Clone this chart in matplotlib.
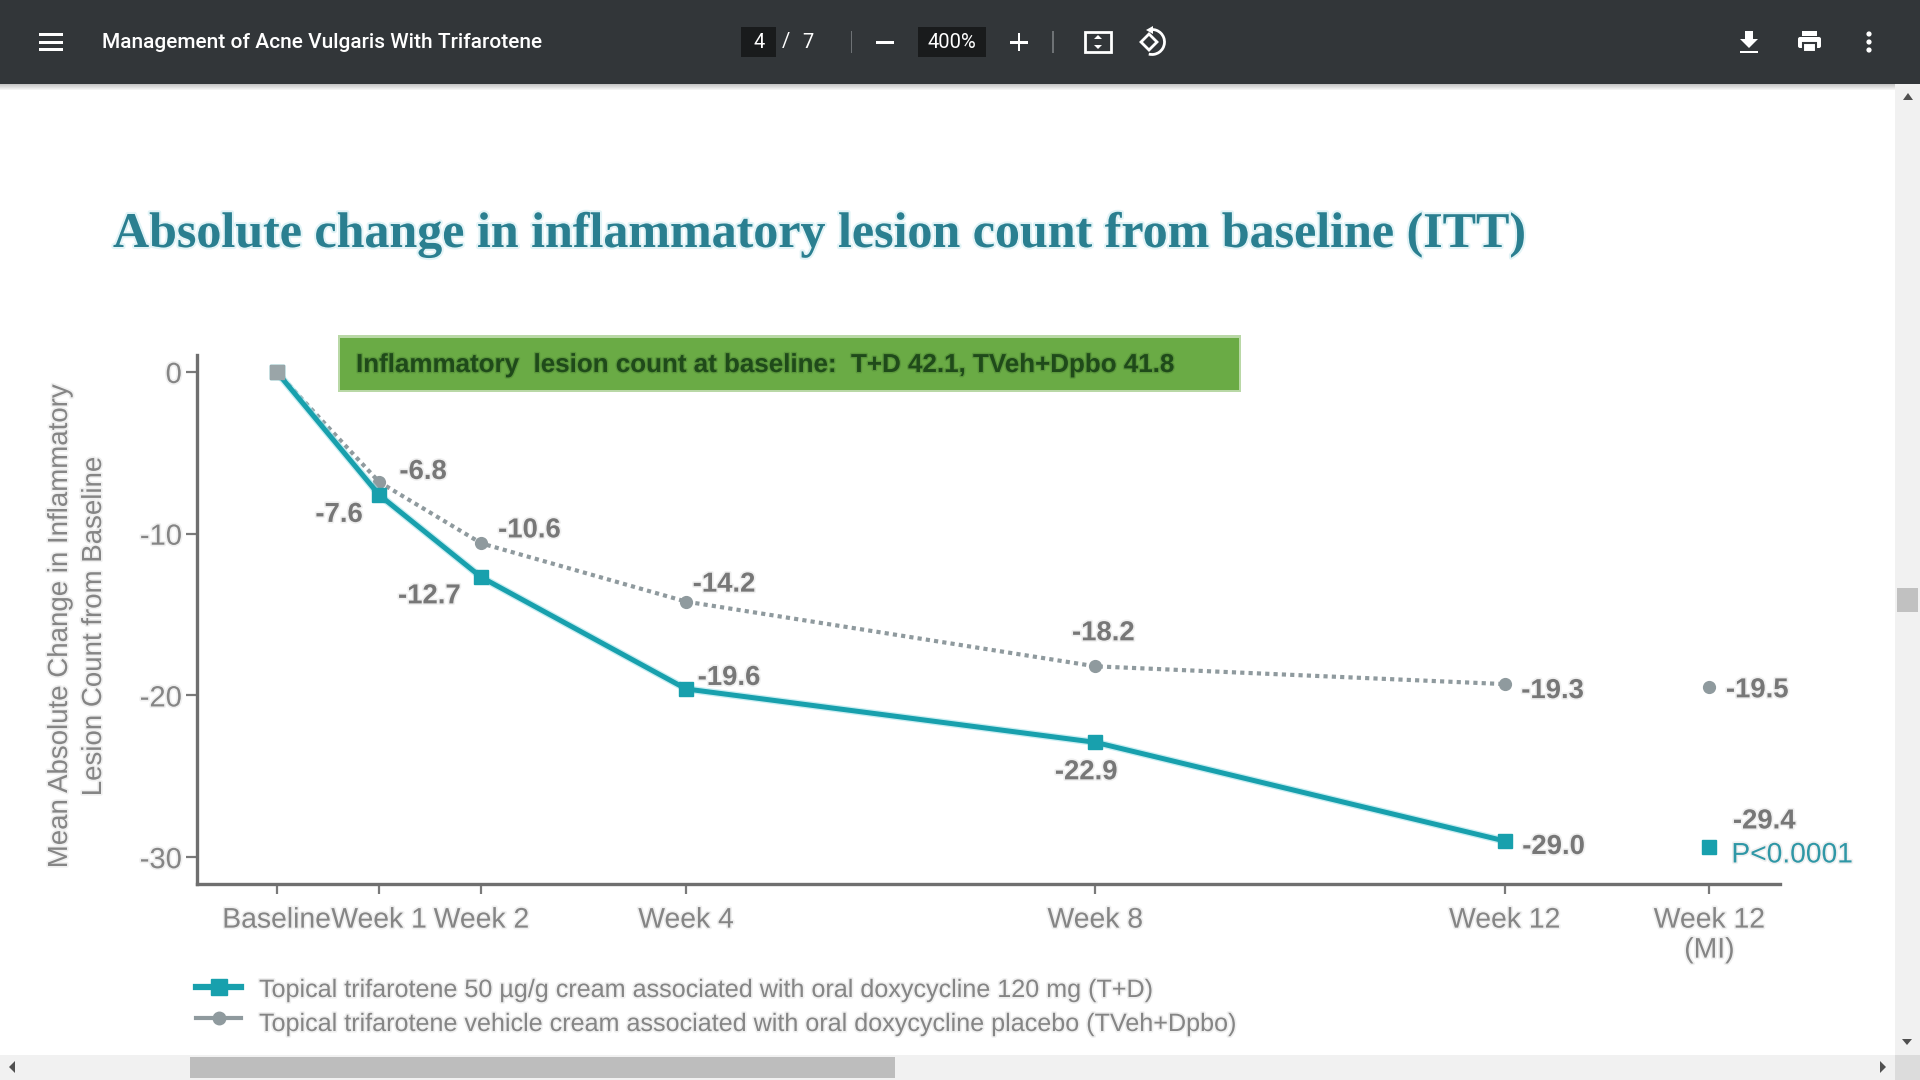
import matplotlib
matplotlib.use("Agg")
import matplotlib.pyplot as plt
import matplotlib.patheffects as pe
from matplotlib.patches import Rectangle, Circle, Polygon, FancyBboxPatch, Arc

# data
weeks = [0, 1, 2, 4, 8, 12]
mi_week = 14
tick_weeks = [0, 1, 2, 4, 8, 12, 14]
tick_names = ["Baseline", "Week 1", "Week 2", "Week 4", "Week 8", "Week 12", "Week 12\n(MI)"]
y_ticks = [0, -10, -20, -30]
td_values = [0, -7.6, -12.7, -19.6, -22.9, -29.0]
veh_values = [0, -6.8, -10.6, -14.2, -18.2, -19.3]
td_mi = -29.4
veh_mi = -19.5

td_label_shift = [None, (-40, -20), (-52, -19), (43, 11), (-9, -30), (49, -6)]
veh_label_shift = [None, (44, 10), (48, 13), (38, 17), (8, 33), (48, -7)]

TEAL = "#18a0ad"
GREY = "#8f9a9e"
TEXT = "#858585"
LABEL = "#777777"
DARK = "#323639"

plt.rcParams["font.family"] = ["Liberation Sans", "DejaVu Sans"]

fig = plt.figure(figsize=(19.2, 10.8), dpi=100, facecolor="white")

# page furniture in pixel coordinates
bg = fig.add_axes([0, 0, 1, 1])
bg.set_xlim(0, 1920)
bg.set_ylim(1080, 0)
bg.axis("off")

soft = [pe.withStroke(linewidth=2.5, foreground="#000000", alpha=0.06)]

# toolbar
for i in range(6):
    bg.add_patch(Rectangle((0, 84 + i), 1920, 1, color="black", alpha=0.22 - i * 0.035, lw=0))
bg.add_patch(Rectangle((0, 0), 1920, 84, color=DARK, lw=0))
for y in [34, 42, 49]:
    bg.add_patch(Rectangle((39, y - 1.5), 24, 3.2, color="white", lw=0))
bg.text(102, 42, "Management of Acne Vulgaris With Trifarotene", color="white", family="Roboto",
        fontsize=15.0, fontweight="medium", va="center", ha="left")
bg.add_patch(Rectangle((741, 27), 35, 30, color="#191b1c", lw=0))
bg.text(759, 42, "4", color="white", family="Roboto", fontsize=14.5, va="center", ha="center")
bg.text(786, 42, "/", color="white", family="Roboto", fontsize=14.5, va="center", ha="center")
bg.text(808, 42, "7", color="white", family="Roboto", fontsize=14.5, va="center", ha="center")
bg.add_patch(Rectangle((850.5, 31), 1.5, 22, color="#6e7275", lw=0))
bg.add_patch(Rectangle((876, 41), 18, 2.5, color="white", lw=0))
bg.add_patch(Rectangle((918, 27), 68, 30, color="#191b1c", lw=0))
bg.text(952, 42, "400%", color="white", family="Roboto", fontsize=14.5, va="center", ha="center")
bg.add_patch(Rectangle((1010, 41), 18, 2.5, color="white", lw=0))
bg.add_patch(Rectangle((1017.8, 33), 2.5, 18, color="white", lw=0))
bg.add_patch(Rectangle((1052, 31), 1.5, 22, color="#6e7275", lw=0))

# fit to page icon
bg.add_patch(Rectangle((1085, 32), 26, 20, fill=False, ec="white", lw=2))
bg.add_patch(Polygon([(1098, 35), (1094, 39), (1102, 39)], color="white", lw=0))
bg.add_patch(Polygon([(1098, 49), (1094, 45), (1102, 45)], color="white", lw=0))

# rotate icon
bg.add_patch(Polygon([(1149, 34), (1157, 42), (1149, 50), (1141, 42)], fill=False, ec="white", lw=2))
bg.add_patch(Arc((1152, 42), 25, 25, theta1=-95, theta2=105, color="white", lw=2))
bg.add_patch(Polygon([(1146, 30), (1153, 26), (1153, 34)], color="white", lw=0))

# download, print, more
bg.add_patch(Rectangle((1745, 31), 8, 9, color="white", lw=0))
bg.add_patch(Polygon([(1740, 39), (1758, 39), (1749, 48)], color="white", lw=0))
bg.add_patch(Rectangle((1740, 50.5), 18, 2.5, color="white", lw=0))
bg.add_patch(Rectangle((1802, 31), 15, 5, color="white", lw=0))
bg.add_patch(FancyBboxPatch((1798, 37), 23, 11, boxstyle="round,pad=0,rounding_size=2", color="white", lw=0))
bg.add_patch(Rectangle((1803, 43), 13, 9, color="white", ec=DARK, lw=1.5))
for y in [34, 42, 50]:
    bg.add_patch(Circle((1869, y), 2.6, color="white", lw=0))

# scrollbars
bg.add_patch(Rectangle((1895, 84), 25, 996, color="#f1f1f1", lw=0))
bg.add_patch(Rectangle((0, 1055), 1920, 25, color="#f1f1f1", lw=0))
bg.add_patch(Rectangle((1895, 1055), 25, 25, color="#dcdcdc", lw=0))
bg.add_patch(Rectangle((1897, 588), 21, 24, color="#c1c1c1", lw=0))
bg.add_patch(Rectangle((190, 1057), 705, 21, color="#bdbdbd", lw=0))
bg.add_patch(Polygon([(1908, 93), (1903, 100), (1913, 100)], color="#505050", lw=0))
bg.add_patch(Polygon([(1907, 1045), (1902, 1039), (1912, 1039)], color="#505050", lw=0))
bg.add_patch(Polygon([(9, 1067), (15, 1061), (15, 1073)], color="#505050", lw=0))
bg.add_patch(Polygon([(1886, 1067), (1880, 1061), (1880, 1073)], color="#505050", lw=0))

# title
bg.text(113, 247, "Absolute change in inflammatory lesion count from baseline (ITT)",
        family="Liberation Serif", fontweight="bold", fontsize=36, color="#2a7f90",
        va="baseline", ha="left",
        path_effects=[pe.withStroke(linewidth=3, foreground="#bfe6ec", alpha=0.45)])

# green box
bg.add_patch(Rectangle((338, 335), 903, 57, color="#b9d8a6", lw=0))
bg.add_patch(Rectangle((340, 338), 899, 52, color="#6aab45", lw=0))
bg.text(356, 365, "Inflammatory  lesion count at baseline:  T+D 42.1, TVeh+Dpbo 41.8",
        color="#1f4a1a", fontsize=18.7, fontweight="bold", va="center", ha="left",
        path_effects=[pe.withStroke(linewidth=2, foreground="#1f4a1a", alpha=0.2)])

# y axis title, two rotated lines
bg.text(60, 627, "Mean Absolute Change in Inflammatory", color=TEXT, fontsize=19.9, rotation=90,
        va="center", ha="center", path_effects=soft)
bg.text(94, 627, "Lesion Count from Baseline", color=TEXT, fontsize=19.9, rotation=90,
        va="center", ha="center", path_effects=soft)

# chart
ax = fig.add_axes([197 / 1920, 1 - 884 / 1080, (1780 - 197) / 1920, (884 - 355) / 1080])
ax.patch.set_alpha(0)
ax.set_xlim(-0.78, 14.69)
ax.set_ylim(-31.66, 1.05)
for side in ["top", "right"]:
    ax.spines[side].set_visible(False)
for side in ["left", "bottom"]:
    ax.spines[side].set_color("#6f6f6f")
    ax.spines[side].set_linewidth(2.4)

ax.set_xticks(tick_weeks)
ax.set_xticklabels(tick_names, fontsize=20.4, color=TEXT, linespacing=1.2, path_effects=soft)
ax.set_yticks(y_ticks)
ax.set_yticklabels([str(v) for v in y_ticks], fontsize=21, color=TEXT, path_effects=soft)
ax.tick_params(axis="x", length=7, width=1.6, color="#7a7a7a", pad=10)
ax.tick_params(axis="y", length=8, width=1.6, color="#7a7a7a", pad=3)

ax.plot(weeks, veh_values, color=GREY, lw=3, ls=(0, (1, 1)), clip_on=False, zorder=3)
ax.plot(weeks, veh_values, ls="none", marker="o", ms=8.5, color=GREY, clip_on=False, zorder=3)
ax.plot(weeks, td_values, color=TEAL, lw=3.6, clip_on=False, zorder=4,
        path_effects=[pe.withStroke(linewidth=5.5, foreground="#a5e3ea", alpha=0.6)])
ax.plot(weeks, td_values, ls="none", marker="s", ms=9.5, color=TEAL, clip_on=False, zorder=4)
ax.plot([0], [0], marker="s", ms=9.5, color="#9aa5a8", zorder=5)
ax.plot([mi_week], [veh_mi], marker="o", ms=8.5, color=GREY, zorder=3)
ax.plot([mi_week], [td_mi], marker="s", ms=10.5, color=TEAL, zorder=4)

for wk, val, shift in zip(weeks, td_values, td_label_shift):
    if shift is None:
        continue
    ax.annotate(f"{val:.1f}", (wk, val), xytext=shift, textcoords="offset pixels", ha="center", va="center",
                fontsize=19.8, fontweight="bold", color=LABEL, annotation_clip=False, path_effects=soft)
for wk, val, shift in zip(weeks, veh_values, veh_label_shift):
    if shift is None:
        continue
    ax.annotate(f"{val:.1f}", (wk, val), xytext=shift, textcoords="offset pixels", ha="center", va="center",
                fontsize=19.8, fontweight="bold", color=LABEL, annotation_clip=False, path_effects=soft)
ax.annotate(f"{veh_mi:.1f}", (mi_week, veh_mi), xytext=(48, -3), textcoords="offset pixels", ha="center",
            va="center", fontsize=19.8, fontweight="bold", color=LABEL, annotation_clip=False, path_effects=soft)
ax.annotate(f"{td_mi:.1f}", (mi_week, td_mi), xytext=(55, 26), textcoords="offset pixels", ha="center",
            va="center", fontsize=19.8, fontweight="bold", color=LABEL, annotation_clip=False, path_effects=soft)
ax.annotate("P<0.0001", (mi_week, td_mi), xytext=(22, -8), textcoords="offset pixels", ha="left",
            va="center", fontsize=20.3, color="#2f97a6", annotation_clip=False, path_effects=soft)

# legend, kept by hand to sit under the axis like the slide
bg.plot([196, 241], [987, 987], color=TEAL, lw=4.5, zorder=2)
bg.plot([219], [987], marker="s", ms=11, color=TEAL, zorder=2)
bg.plot([196, 241], [1018, 1018], color=GREY, lw=3, zorder=2)
bg.plot([219], [1018], marker="o", ms=9, color=GREY, zorder=2)
bg.text(259, 990, "Topical trifarotene 50 µg/g cream associated with oral doxycycline 120 mg (T+D)",
        color=TEXT, fontsize=18.1, va="center", ha="left", path_effects=soft)
bg.text(259, 1024, "Topical trifarotene vehicle cream associated with oral doxycycline placebo (TVeh+Dpbo)",
        color=TEXT, fontsize=18.1, va="center", ha="left", path_effects=soft)

fig.savefig("out.png", dpi=100)
